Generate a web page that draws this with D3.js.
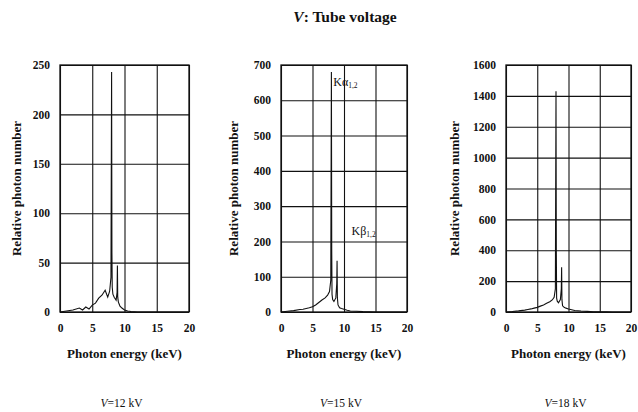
<!DOCTYPE html>
<html>
<head>
<meta charset="utf-8">
<script src="https://cdn.jsdelivr.net/npm/d3@7"></script>
<style>
  body { margin: 0; background: #fff; }
  svg text { font-family: "Liberation Serif", "Times New Roman", serif; fill: #111; }
  .axis text { font-size: 11.5px; font-weight: bold; }
  .axis line { stroke: #111; stroke-width: 1.1; }
</style>
</head>
<body>
<div id="chart"></div>
<script>
// ---------------------------------------------------------------- //
// DATA
// ---------------------------------------------------------------- //

// photon energy (keV) of each sample
var energy = [0, 1, 2, 3, 3.5, 4, 4.5, 5, 5.5, 6, 6.5, 7, 7.4, 7.7, 7.9, 8.0, 8.05, 8.1, 8.2, 8.4,
  8.7, 8.85, 8.9, 8.95, 9.05, 9.3, 9.6, 10, 10.5, 11, 12, 13, 14, 15, 16, 17, 18, 19, 20];

// relative photon number, one series per tube voltage
var counts12 = [0, 1, 2, 4, 2, 5, 3, 7, 9, 14, 17, 22, 15, 21, 35, 243, 60, 25, 18, 15,
  12, 20, 47, 15, 10, 6, 4, 2, 1, 0.5, 0, 0, 0, 0, 0, 0, 0, 0, 0];
var counts15 = [0, 2, 4, 7, 8, 10, 12, 15, 20, 27, 34, 40, 48, 58, 90, 680, 180, 50, 35, 30,
  40, 80, 145, 40, 20, 12, 10, 8, 5, 3, 2, 1, 0.5, 0, 0, 0, 0, 0, 0];
var counts18 = [0, 3, 7, 12, 16, 20, 25, 30, 38, 46, 56, 66, 78, 95, 150, 1430, 400, 90, 70, 60,
  80, 150, 290, 80, 40, 30, 25, 20, 15, 10, 6, 4, 2, 1, 0.5, 0, 0, 0, 0];

var voltages = [12, 15, 18];
var yMax = [250, 700, 1600];
var yTicks12 = [0, 50, 100, 150, 200, 250];
var yTicks15 = [0, 100, 200, 300, 400, 500, 600, 700];
var yTicks18 = [0, 200, 400, 600, 800, 1000, 1200, 1400, 1600];
var xTicks = [0, 5, 10, 15, 20];

// ---------------------------------------------------------------- //
// SVG AREA
// ---------------------------------------------------------------- //

var W = 638, H = 412;
var top_ = 65, bottom = 312;
var serif = "'Liberation Serif', 'Times New Roman', serif";

var svg = d3.select("#chart")
  .append("svg")
    .attr("width", W)
    .attr("height", H);

// left / right edge of each plot and gap to its y title
var panels = [
  {left: 60, right: 189, titleGap: 42, counts: counts12, ticks: yTicks12},
  {left: 281, right: 407, titleGap: 46, counts: counts15, ticks: yTicks15},
  {left: 506, right: 631, titleGap: 50, counts: counts18, ticks: yTicks18}
];

// main title
var title = svg.append("text")
  .attr("x", 345)
  .attr("y", 22)
  .attr("text-anchor", "middle")
  .attr("font-size", "15.5px")
  .attr("font-weight", "bold")
title.append("tspan").attr("font-style", "italic").text("V")
title.append("tspan").text(": Tube voltage")

panels.forEach(function(p, i) {

  var x = d3.scaleLinear()
    .domain([0, 20])
    .range([p.left, p.right]);

  var y = d3.scaleLinear()
    .domain([0, yMax[i]])
    .range([bottom, top_]);

  // y axis + horizontal grid
  var ya = svg.append("g")
    .attr("class", "axis")
    .attr("transform", "translate(" + p.left + ",0)")
    .call(d3.axisLeft(y).tickValues(p.ticks).tickSize(-(p.right - p.left)).tickPadding(10).tickFormat(d3.format("d")));
  ya.attr("font-family", serif);
  ya.select(".domain").remove();

  // x axis + vertical grid
  var xa = svg.append("g")
    .attr("class", "axis")
    .attr("transform", "translate(0," + bottom + ")")
    .call(d3.axisBottom(x).tickValues(xTicks).tickSize(-(bottom - top_)).tickPadding(12));
  xa.attr("font-family", serif);
  xa.select(".domain").remove();

  // frame
  svg.append("rect")
    .attr("x", p.left)
    .attr("y", top_)
    .attr("width", p.right - p.left)
    .attr("height", bottom - top_)
    .attr("fill", "none")
    .attr("stroke", "#111")
    .attr("stroke-width", 1.3);

  // spectrum
  var line = d3.line()
    .x(function(d, k) { return x(energy[k]); })
    .y(function(d) { return y(d); });

  svg.append("path")
    .datum(p.counts)
    .attr("d", line)
    .attr("fill", "none")
    .attr("stroke", "#111")
    .attr("stroke-width", 1.1);

  // axis titles
  var cx = (p.left + p.right) / 2;
  svg.append("text")
    .attr("x", cx)
    .attr("y", 358)
    .attr("text-anchor", "middle")
    .attr("font-size", "13px")
    .attr("font-weight", "bold")
    .text("Photon energy (keV)");

  svg.append("text")
    .attr("transform", "translate(" + (p.left - p.titleGap) + "," + ((top_ + bottom) / 2) + ") rotate(-90)")
    .attr("text-anchor", "middle")
    .attr("dominant-baseline", "middle")
    .attr("font-size", "13px")
    .attr("font-weight", "bold")
    .text("Relative photon number");

  // voltage caption
  var cap = svg.append("text")
    .attr("x", cx - 3)
    .attr("y", 407)
    .attr("text-anchor", "middle")
    .attr("font-size", "11.5px");
  cap.append("tspan").attr("font-style", "italic").text("V");
  cap.append("tspan").text("=" + voltages[i] + " kV");

  // peak labels on the middle panel
  if (i == 1) {
    var ka = svg.append("text")
      .attr("x", x(8.3))
      .attr("y", y(640))
      .attr("font-size", "12px");
    ka.append("tspan").text("K\u03b1");
    ka.append("tspan").attr("font-size", "7.5px").attr("dy", 2).text("1,2");

    var kb = svg.append("text")
      .attr("x", x(11.2))
      .attr("y", y(218))
      .attr("font-size", "12px");
    kb.append("tspan").text("K\u03b2");
    kb.append("tspan").attr("font-size", "7.5px").attr("dy", 2).text("1,2");
  }
});
</script>
</body>
</html>
